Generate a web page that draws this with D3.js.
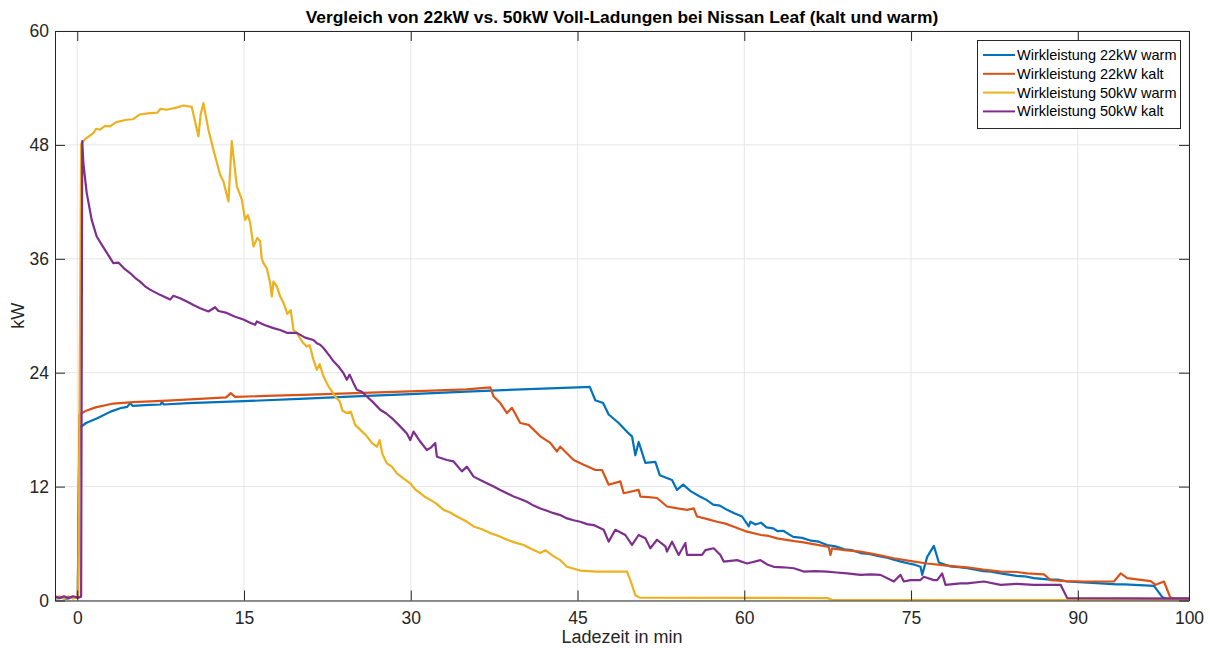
<!DOCTYPE html>
<html>
<head>
<meta charset="utf-8">
<script src="https://cdn.jsdelivr.net/npm/d3@7"></script>
<style>
  html, body { margin: 0; padding: 0; background: #fff; }
  svg { display: block; font-family: "Liberation Sans", Arial, sans-serif; }
</style>
</head>
<body>
<svg id="chart" width="1210" height="648"></svg>
<script>
// ---- data (x: Ladezeit in min, y: kW) ----
const seriesNames = ["Wirkleistung 22kW warm", "Wirkleistung 22kW kalt", "Wirkleistung 50kW warm", "Wirkleistung 50kW kalt"];
const seriesColors = ["#0072BD", "#D95319", "#EDB120", "#7E2F8E"];
const xTicks = [0, 15, 30, 45, 60, 75, 90, 100];
const yTicks = [0, 12, 24, 36, 48, 60];
const titleText = "Vergleich von 22kW vs. 50kW Voll-Ladungen bei Nissan Leaf (kalt und warm)";
const xLabel = "Ladezeit in min";
const yLabel = "kW";

const warm22 = [[-2,0.2],[-1.5,0.3],[-1,0.2],[-0.5,0.3],[0.05,0.3],[0.2,18.2],[0.8,18.7],[1.8,19.2],[3,19.9],[4,20.3],[4.5,20.4],[4.75,20.8],[5,20.5],[6.5,20.6],[7.5,20.65],[7.6,20.9],[7.8,20.65],[10,20.8],[15,21.0],[20,21.25],[25,21.5],[30,21.75],[35,22.0],[40,22.25],[45,22.45],[46.1,22.5],[46.6,21.1],[47.3,20.8],[47.8,19.6],[48.7,18.7],[49.6,17.6],[49.9,17.3],[50.2,15.3],[50.5,16.7],[51.1,14.5],[52.0,14.6],[52.4,13.2],[53.5,12.7],[53.95,11.65],[54.5,12.2],[55.2,11.5],[56.0,10.95],[56.6,10.6],[57.2,10.1],[57.8,10.0],[58.45,9.55],[59.1,9.2],[59.8,8.85],[60.4,7.8],[60.55,8.3],[61.0,8.0],[61.5,8.2],[62.0,7.7],[62.6,7.6],[63.0,7.3],[63.5,7.35],[64.4,6.7],[65.2,6.6],[66,6.3],[66.7,6.2],[67.45,5.85],[68.2,5.7],[69,5.4],[69.7,5.3],[70.45,5.0],[71.2,4.9],[72,4.7],[72.7,4.55],[73.45,4.3],[74.1,4.1],[74.8,3.9],[75.4,3.75],[75.85,3.55],[76.0,2.7],[76.45,4.6],[77.05,5.75],[77.5,4.0],[78.5,3.6],[79.3,3.5],[80.05,3.4],[81.5,3.1],[82.2,3.05],[83.05,2.85],[84.5,2.6],[85.2,2.55],[86.05,2.35],[87.5,2.2],[88.2,2.2],[89.05,2.0],[90.5,1.9],[91.3,1.85],[92.05,1.8],[93.5,1.7],[94.2,1.7],[95.05,1.65],[96.0,1.6],[96.85,1.55],[97.6,0.35],[98,0.2],[100,0.2]];

const kalt22 = [[-2,0.3],[-1,0.3],[0.05,0.3],[0.2,19.6],[0.8,20.0],[1.65,20.35],[3.25,20.75],[5,20.9],[8.1,21.05],[11,21.25],[13.4,21.4],[13.8,21.85],[14.2,21.45],[17,21.55],[21,21.7],[25,21.85],[30.6,22.05],[35,22.25],[37.15,22.45],[37.45,21.5],[38.05,20.8],[38.65,19.75],[39.1,20.3],[39.85,18.7],[40.6,18.5],[41.65,17.3],[42.55,16.6],[43.15,15.7],[43.45,16.2],[44.35,15.15],[44.65,14.8],[45.55,14.3],[46.6,13.75],[47.2,13.75],[47.8,12.2],[48.85,12.55],[49.15,11.3],[50.5,11.65],[50.65,10.95],[51.4,10.9],[52.15,10.8],[53.05,9.9],[54.0,9.7],[54.85,9.55],[55.45,9.7],[55.75,8.85],[56.6,8.6],[57.55,8.3],[58.3,8.1],[59,7.8],[60.25,7.25],[61.5,6.9],[62.2,6.8],[62.95,6.55],[64.5,6.25],[65.2,6.15],[65.95,6.0],[67.6,5.65],[67.75,4.8],[67.9,5.5],[69,5.3],[70.45,5.15],[72,4.8],[73.45,4.45],[75,4.15],[76.45,3.9],[78,3.7],[79.45,3.55],[80.05,3.5],[81.5,3.25],[83.05,3.05],[84.5,3.0],[85.45,2.85],[86.95,2.75],[87.55,2.15],[89,2.05],[90.55,2.0],[92,2.0],[93.25,2.0],[93.85,2.85],[94.45,2.35],[95.5,2.2],[96.55,2.05],[97.0,1.65],[97.75,2.0],[98.3,0.35],[98.6,0.2],[100,0.2]];

const warm50 = [[-2,0.2],[-1.6,0.45],[-1.2,0.2],[-0.8,0.45],[-0.4,0.2],[0.1,0.4],[0.35,48.1],[0.7,48.6],[1.45,49.25],[1.7,49.7],[2.05,49.6],[2.5,50.0],[2.95,49.95],[3.5,50.4],[4.45,50.65],[5,50.7],[5.6,51.2],[6.55,51.35],[7.2,51.4],[7.5,51.8],[8.05,51.7],[9,51.95],[9.55,52.15],[10.3,52.0],[10.9,48.9],[11.1,51.2],[11.35,52.4],[11.8,49.6],[12.25,47.5],[12.85,44.85],[13.15,44.15],[13.35,43.2],[13.6,42.05],[13.9,48.4],[14.35,43.65],[14.8,42.25],[15.1,40.1],[15.35,40.6],[15.55,39.8],[15.85,37.3],[16.2,38.2],[16.45,37.85],[16.6,36.0],[16.75,35.55],[17.05,35.0],[17.35,33.45],[17.5,32.05],[17.65,33.6],[17.95,33.1],[18.25,32.05],[18.55,31.35],[18.9,30.2],[19.2,30.6],[19.45,28.5],[19.75,28.2],[20.05,27.6],[20.35,27.1],[20.65,26.75],[20.9,26.9],[21.25,25.35],[21.55,24.3],[21.8,24.9],[22.15,23.6],[22.6,22.55],[23.2,21.5],[23.6,21.0],[23.85,20.0],[24.25,19.75],[24.6,19.9],[25.0,18.5],[25.45,18.0],[26.05,17.3],[26.5,16.6],[26.95,16.2],[27.2,16.9],[27.45,15.4],[27.85,14.45],[28.3,14.1],[28.75,13.4],[29.3,12.9],[29.95,12.35],[30.4,11.7],[30.85,11.3],[31.3,10.9],[31.75,10.6],[32.3,10.2],[32.95,9.55],[33.5,9.3],[34.15,8.85],[34.9,8.4],[35.65,7.8],[36.4,7.5],[37.15,7.1],[37.9,6.8],[38.65,6.4],[39.4,6.1],[40.15,5.85],[40.9,5.4],[41.65,5.0],[42.1,5.3],[42.8,4.7],[43.45,4.25],[44.05,3.55],[45.25,3.15],[46.75,3.05],[48.25,3.05],[49.45,3.05],[49.75,2.15],[50.2,0.55],[50.6,0.3],[67.5,0.25],[67.9,0.05],[100,0.05]];

const kalt50 = [[-2,0.45],[-1.6,0.25],[-1.2,0.45],[-0.8,0.25],[-0.4,0.45],[0.1,0.3],[0.35,0.4],[0.45,48.4],[0.55,46.1],[0.85,42.95],[1.3,40.1],[1.75,38.35],[2.2,37.5],[2.95,36.1],[3.25,35.55],[3.7,35.6],[4.2,35.0],[4.75,34.5],[5.2,34.0],[5.65,33.6],[6.1,33.1],[6.55,32.75],[7.45,32.2],[8.35,31.7],[8.65,32.1],[9.25,31.85],[9.85,31.5],[10.5,31.1],[11.05,30.8],[11.8,30.45],[12.4,30.9],[12.7,30.5],[13.45,30.3],[14.2,29.9],[14.95,29.6],[15.5,29.3],[16.0,29.05],[16.15,29.4],[16.9,29.0],[17.65,28.7],[18.25,28.5],[18.85,28.2],[19.75,28.2],[20.5,27.7],[21.25,27.45],[21.55,27.1],[21.85,26.95],[22.15,26.6],[22.75,25.7],[23.05,25.2],[23.5,24.65],[23.95,23.95],[24.25,23.25],[24.5,23.8],[24.85,22.9],[25.15,22.2],[25.6,22.0],[26.05,21.5],[26.6,20.9],[27.25,20.1],[27.8,19.7],[28.45,19.05],[29.0,18.4],[29.65,17.6],[29.95,16.9],[30.25,17.8],[30.85,16.75],[31.45,15.85],[31.8,16.1],[32.2,16.6],[32.35,15.15],[33.25,14.8],[33.85,14.65],[34.6,13.6],[35.05,14.1],[35.65,13.05],[36.25,12.7],[36.85,12.35],[37.45,12.0],[38.05,11.65],[38.65,11.3],[39.25,10.95],[39.85,10.7],[40.45,10.4],[41.05,10.0],[41.65,9.7],[42.25,9.45],[42.85,9.2],[43.45,9.0],[44.05,8.65],[44.65,8.45],[45.25,8.3],[45.85,8.05],[46.45,7.95],[47.35,7.45],[47.8,6.2],[48.4,7.45],[49.3,6.9],[49.9,5.85],[50.5,6.9],[51.1,6.55],[51.55,5.5],[52.15,6.4],[52.9,5.7],[53.05,5.15],[53.5,6.2],[54.1,4.8],[54.7,6.05],[54.85,4.8],[55.3,4.8],[56.2,4.8],[56.5,5.3],[57.25,5.5],[57.85,4.8],[58.15,4.1],[59.35,4.25],[60.25,3.9],[61.45,4.25],[62.05,3.8],[62.65,3.55],[63.5,3.5],[64.45,3.4],[65.35,3.05],[66.4,3.1],[67.45,3.05],[68.3,2.95],[69.25,2.85],[70.45,2.7],[71.3,2.75],[72.25,2.7],[73.45,2.0],[74.05,2.7],[74.35,2.0],[74.95,2.15],[75.85,2.15],[76.15,2.5],[77.05,2.15],[77.35,2.15],[77.8,2.85],[78.1,1.65],[79.45,1.8],[80.05,1.8],[81.55,2.0],[83.05,1.65],[84.5,1.75],[86.05,1.65],[88.45,1.65],[88.75,0.95],[89.05,0.25],[100,0.2]];

const allSeries = [warm22, kalt22, warm50, kalt50];

// ---- layout ----
const svg = d3.select("#chart");
const L = 55, R = 1189, T = 31, B = 600.5;
const x = d3.scaleLinear().domain([-2, 100]).range([L, R]);
const y = d3.scaleLinear().domain([0, 60]).range([B, T]);
const axisColor = "#262626";
const tickLen = 10;

// grid
const grid = svg.append("g");
xTicks.forEach(t => {
  grid.append("line").attr("x1", x(t)).attr("x2", x(t)).attr("y1", T).attr("y2", B)
    .attr("stroke", "#e6e6e6").attr("stroke-width", 1);
});
yTicks.forEach(t => {
  grid.append("line").attr("x1", L).attr("x2", R).attr("y1", y(t)).attr("y2", y(t))
    .attr("stroke", "#e6e6e6").attr("stroke-width", 1);
});

// lines
svg.append("clipPath").attr("id", "clip").append("rect")
  .attr("x", L).attr("y", T - 2).attr("width", R - L).attr("height", B - T + 2);
const line = d3.line().x(d => x(d[0])).y(d => y(d[1]));
const lines = svg.append("g").attr("clip-path", "url(#clip)");
allSeries.forEach((s, i) => {
  lines.append("path").datum(s).attr("d", line)
    .attr("fill", "none").attr("stroke", seriesColors[i])
    .attr("stroke-width", 2.2).attr("stroke-linejoin", "round");
});

// axes (box with inward ticks)
const xAxisB = d3.axisBottom(x).tickValues(xTicks).tickSizeInner(-tickLen).tickSizeOuter(0).tickPadding(11);
const xAxisT = d3.axisTop(x).tickValues(xTicks).tickSizeInner(-tickLen).tickSizeOuter(0).tickFormat("");
const yAxisL = d3.axisLeft(y).tickValues(yTicks).tickSizeInner(-tickLen).tickSizeOuter(0).tickPadding(6);
const yAxisR = d3.axisRight(y).tickValues(yTicks).tickSizeInner(-tickLen).tickSizeOuter(0).tickFormat("");

function styleAxis(g) {
  g.select(".domain").attr("stroke", axisColor).attr("stroke-width", 1);
  g.selectAll(".tick line").attr("stroke", axisColor).attr("stroke-width", 1);
  g.selectAll(".tick text").attr("fill", axisColor).attr("font-size", "17.5px")
    .attr("font-family", "'Liberation Sans', Arial, sans-serif");
}
svg.append("g").attr("transform", `translate(0,${B})`).call(xAxisB).call(styleAxis);
svg.append("g").attr("transform", `translate(0,${T})`).call(xAxisT).call(styleAxis);
svg.append("g").attr("transform", `translate(${L},0)`).call(yAxisL).call(styleAxis);
svg.append("g").attr("transform", `translate(${R},0)`).call(yAxisR).call(styleAxis);

// title & labels
svg.append("text").attr("x", (L + R) / 2).attr("y", 23).attr("text-anchor", "middle")
  .attr("font-size", "17.4px").attr("font-weight", "bold").attr("fill", "#000").text(titleText);
svg.append("text").attr("x", (L + R) / 2).attr("y", 643).attr("text-anchor", "middle")
  .attr("font-size", "18px").attr("fill", axisColor).text(xLabel);
svg.append("text").attr("transform", `translate(24,${(T + B) / 2}) rotate(-90)`)
  .attr("text-anchor", "middle").attr("font-size", "18px").attr("fill", axisColor).text(yLabel);

// legend
const lg = svg.append("g");
lg.append("rect").attr("x", 977.5).attr("y", 40.5).attr("width", 203).attr("height", 88)
  .attr("fill", "#fff").attr("stroke", axisColor).attr("stroke-width", 1);
seriesNames.forEach((n, i) => {
  const yy = 55 + i * 18.8;
  lg.append("line").attr("x1", 983).attr("x2", 1015).attr("y1", yy).attr("y2", yy)
    .attr("stroke", seriesColors[i]).attr("stroke-width", 2);
  lg.append("text").attr("x", 1017).attr("y", yy + 5).attr("font-size", "14.5px")
    .attr("fill", "#000").text(n);
});
</script>
</body>
</html>
